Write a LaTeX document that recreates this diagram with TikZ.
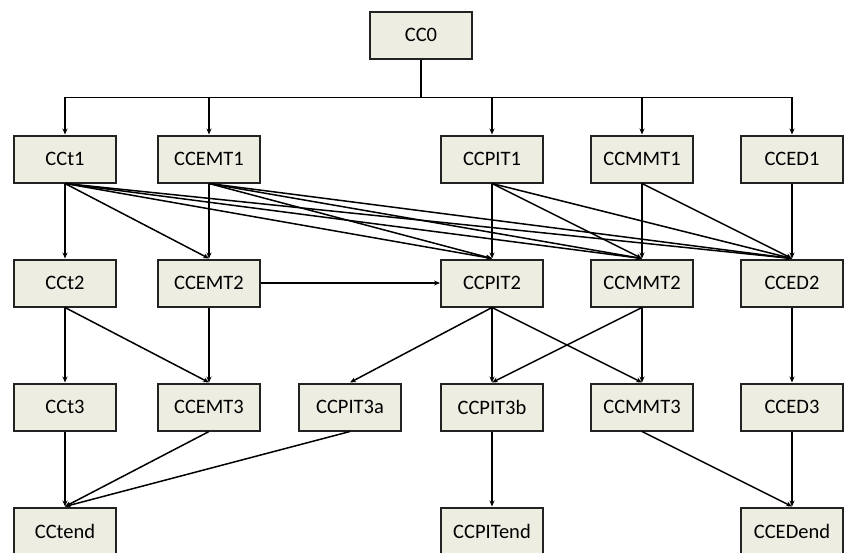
\documentclass[tikz,border=0pt]{standalone}
\usepackage{fontspec}
\setmainfont{Carlito}
\usetikzlibrary{arrows.meta}
\definecolor{boxfill}{HTML}{EEEDE2}
\definecolor{boxline}{HTML}{222222}
\tikzset{
  box/.style={draw=boxline, line width=2pt, fill=boxfill, minimum width=102pt, minimum height=47pt, inner sep=0pt, font=\fontsize{20.5}{22}\selectfont, text=black},
  arr/.style={draw=black, line width=1.5pt, -{Stealth[length=6pt,width=5pt]}}
}
\begin{document}
\begin{tikzpicture}[x=1pt,y=-1pt]
\useasboundingbox (0,0) rectangle (846,552);
\clip (0,0) rectangle (846,552);
% nodes
\node[box] (CC0) at (421,35) {CC0};
\node[box] (CCt1) at (65,159) {CCt1};
\node[box] (CCEMT1) at (209,159) {CCEMT1};
\node[box] (CCPIT1) at (492,159) {CCPIT1};
\node[box] (CCMMT1) at (642,159) {CCMMT1};
\node[box] (CCED1) at (792,159) {CCED1};
\node[box] (CCt2) at (65,283) {CCt2};
\node[box] (CCEMT2) at (209,283) {CCEMT2};
\node[box] (CCPIT2) at (492,283) {CCPIT2};
\node[box] (CCMMT2) at (642,283) {CCMMT2};
\node[box] (CCED2) at (792,283) {CCED2};
\node[box] (CCt3) at (65,407) {CCt3};
\node[box] (CCEMT3) at (209,407) {CCEMT3};
\node[box] (CCPIT3a) at (350,407) {CCPIT3a};
\node[box] (CCPIT3b) at (492,407) {CCPIT3b};
\node[box] (CCMMT3) at (642,407) {CCMMT3};
\node[box] (CCED3) at (792,407) {CCED3};
\node[box] (CCtend) at (65,531) {CCtend};
\node[box] (CCPITend) at (492,531) {CCPITend};
\node[box] (CCEDend) at (792,531) {CCEDend};
% CC0 bus
\foreach \t in {CCt1,CCEMT1,CCPIT1,CCMMT1,CCED1}
  \draw[arr] (CC0.south) -- ++(0,38) -| (\t.north);
% row 1 -> row 2
\draw[arr] (CCt1.south) -- (CCt2.north);
\draw[arr] (CCt1.south) -- (CCEMT2.north);
\draw[arr] (CCt1.south) -- (CCPIT2.north);
\draw[arr] (CCt1.south) -- (CCMMT2.north);
\draw[arr] (CCt1.south) -- (CCED2.north);
\draw[arr] (CCEMT1.south) -- (CCEMT2.north);
\draw[arr] (CCEMT1.south) -- (CCPIT2.north);
\draw[arr] (CCEMT1.south) -- (CCMMT2.north);
\draw[arr] (CCEMT1.south) -- (CCED2.north);
\draw[arr] (CCPIT1.south) -- (CCPIT2.north);
\draw[arr] (CCPIT1.south) -- (CCMMT2.north);
\draw[arr] (CCPIT1.south) -- (CCED2.north);
\draw[arr] (CCMMT1.south) -- (CCMMT2.north);
\draw[arr] (CCMMT1.south) -- (CCED2.north);
\draw[arr] (CCED1.south) -- (CCED2.north);
% row 2
\draw[arr] (CCEMT2.east) -- (CCPIT2.west);
% row 2 -> row 3
\draw[arr] (CCt2.south) -- (CCt3.north);
\draw[arr] (CCt2.south) -- (CCEMT3.north);
\draw[arr] (CCEMT2.south) -- (CCEMT3.north);
\draw[arr] (CCPIT2.south) -- (CCPIT3a.north);
\draw[arr] (CCPIT2.south) -- (CCPIT3b.north);
\draw[arr] (CCPIT2.south) -- (CCMMT3.north);
\draw[arr] (CCMMT2.south) -- (CCPIT3b.north);
\draw[arr] (CCMMT2.south) -- (CCMMT3.north);
\draw[arr] (CCED2.south) -- (CCED3.north);
% row 3 -> row 4
\draw[arr] (CCt3.south) -- (CCtend.north);
\draw[arr] (CCEMT3.south) -- (CCtend.north);
\draw[arr] (CCPIT3a.south) -- (CCtend.north);
\draw[arr] (CCPIT3b.south) -- (CCPITend.north);
\draw[arr] (CCMMT3.south) -- (CCEDend.north);
\draw[arr] (CCED3.south) -- (CCEDend.north);
\end{tikzpicture}
\end{document}
